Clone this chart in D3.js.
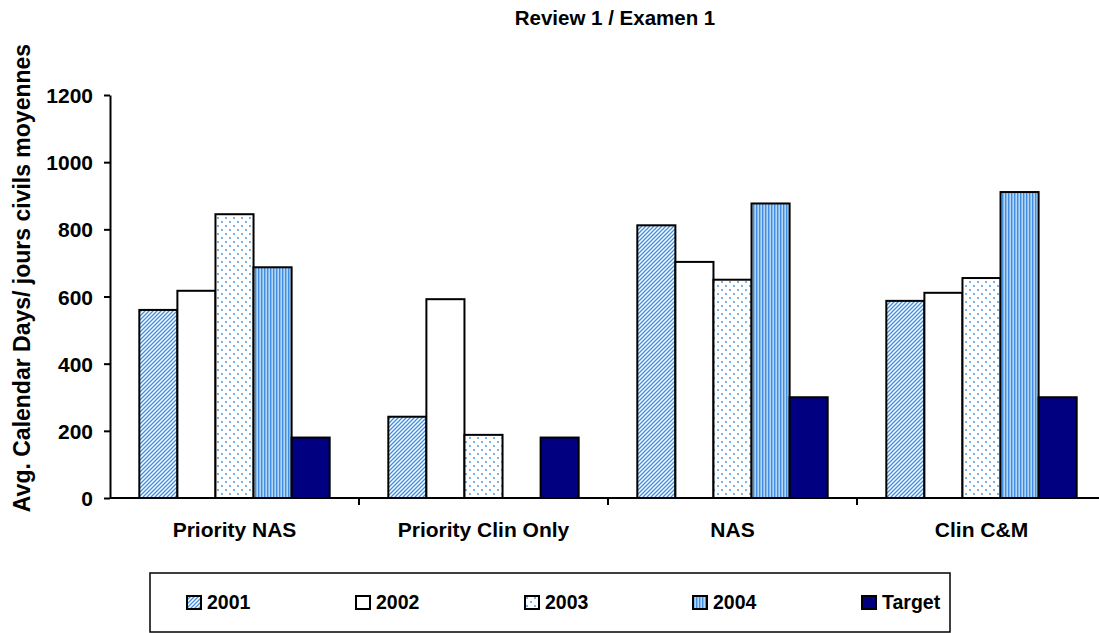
<!DOCTYPE html>
<html>
<head>
<meta charset="utf-8">
<script src="https://cdn.jsdelivr.net/npm/d3@7"></script>
<style>
  body { margin: 0; background: #fff; }
  svg text { font-family: Arial, "Liberation Sans", sans-serif; font-weight: bold; fill: #000; }
</style>
</head>
<body>
<svg id="chart" width="1099" height="633"></svg>
<script>
const categories = ["Priority NAS", "Priority Clin Only", "NAS", "Clin C&M"];
const seriesNames = ["2001", "2002", "2003", "2004", "Target"];
const values2001 = [560, 242, 812, 587];
const values2002 = [617, 592, 703, 611];
const values2003 = [845, 188, 650, 655];
const values2004 = [687, null, 877, 911];
const valuesTarget = [180, 180, 300, 300];
const yTicks = [0, 200, 400, 600, 800, 1000, 1200];

const seriesValues = [values2001, values2002, values2003, values2004, valuesTarget];
const fills = ["url(#p2001)", "#ffffff", "url(#p2003)", "url(#p2004)", "#000080"];

const svg = d3.select("#chart");
const blue = "#3f8ee0";

// patterns
const defs = svg.append("defs");

const p1 = defs.append("pattern")
  .attr("id", "p2001")
  .attr("patternUnits", "userSpaceOnUse")
  .attr("width", 4).attr("height", 4);
p1.append("rect").attr("width", 4).attr("height", 4).attr("fill", "#fff");
p1.append("path")
  .attr("d", "M-1,1 l2,-2 M0,4 l4,-4 M3,5 l2,-2")
  .attr("stroke", blue).attr("stroke-width", 1.3);

const p3 = defs.append("pattern")
  .attr("id", "p2003")
  .attr("patternUnits", "userSpaceOnUse")
  .attr("width", 8).attr("height", 8);
p3.append("rect").attr("width", 8).attr("height", 8).attr("fill", "#fff");
p3.append("circle").attr("cx", 2).attr("cy", 2).attr("r", 0.9).attr("fill", blue);
p3.append("circle").attr("cx", 6).attr("cy", 6).attr("r", 0.9).attr("fill", blue);

const p4 = defs.append("pattern")
  .attr("id", "p2004")
  .attr("patternUnits", "userSpaceOnUse")
  .attr("width", 3).attr("height", 3);
p4.append("rect").attr("width", 3).attr("height", 3).attr("fill", "#b5d5f5");
p4.append("rect").attr("x", 0).attr("width", 1.4).attr("height", 3).attr("fill", blue);

// scales
const x = d3.scaleBand()
  .domain(categories)
  .range([110, 1106]);

const xInner = d3.scaleBand()
  .domain(seriesNames)
  .range([0, x.bandwidth()])
  .paddingOuter(0.77);

const y = d3.scaleLinear()
  .domain([0, 1200])
  .range([498, 95]);

// bars
seriesNames.forEach((name, i) => {
  const rows = categories.map((c, j) => ({ cat: c, value: seriesValues[i][j] }))
    .filter(d => d.value != null);

  svg.append("g")
    .selectAll("rect")
    .data(rows)
    .enter()
    .append("rect")
    .attr("x", d => x(d.cat) + xInner(name))
    .attr("y", d => y(d.value))
    .attr("width", xInner.bandwidth())
    .attr("height", d => y(0) - y(d.value))
    .attr("fill", fills[i])
    .attr("stroke", "#000")
    .attr("stroke-width", 2);
});

// y axis
const yAxis = svg.append("g")
  .attr("transform", "translate(110,0)")
  .call(d3.axisLeft(y).tickValues(yTicks).tickFormat(d3.format("d"))
    .tickSize(6).tickPadding(11).tickSizeOuter(0));
yAxis.select(".domain").attr("stroke", "#000").attr("stroke-width", 2);
yAxis.selectAll(".tick line").attr("stroke", "#000").attr("stroke-width", 2);
yAxis.selectAll(".tick text")
  .style("font-size", "21px")
  .attr("dy", "0.36em");

// x axis
const xAxis = svg.append("g")
  .attr("transform", "translate(0,498)");
xAxis.append("line")
  .attr("x1", 110).attr("x2", 1106)
  .attr("stroke", "#000").attr("stroke-width", 2);
xAxis.selectAll(".xtick")
  .data(categories.slice(1))
  .enter()
  .append("line")
  .attr("x1", d => x(d)).attr("x2", d => x(d))
  .attr("y1", 0).attr("y2", 7)
  .attr("stroke", "#000").attr("stroke-width", 2);
xAxis.selectAll(".xlabel")
  .data(categories)
  .enter()
  .append("text")
  .attr("x", d => x(d) + x.bandwidth() / 2)
  .attr("y", 39)
  .attr("text-anchor", "middle")
  .style("font-size", "21px")
  .text(d => d);

// title
svg.append("text")
  .attr("x", 615)
  .attr("y", 25)
  .attr("text-anchor", "middle")
  .style("font-size", "20.5px")
  .text("Review 1 / Examen 1");

// y label
svg.append("text")
  .attr("transform", "translate(30,278) rotate(-90)")
  .attr("text-anchor", "middle")
  .style("font-size", "23px")
  .text("Avg. Calendar Days/ jours civils moyennes");

// legend
const legend = svg.append("g");
legend.append("rect")
  .attr("x", 150).attr("y", 573)
  .attr("width", 800).attr("height", 59)
  .attr("fill", "none")
  .attr("stroke", "#000")
  .attr("stroke-width", 1.5);

const legendX = [187, 356, 525, 693, 862];
const legendItems = legend.selectAll(".legend-item")
  .data(seriesNames)
  .enter()
  .append("g")
  .attr("transform", (d, i) => `translate(${legendX[i]},596)`);

legendItems.append("rect")
  .attr("width", 14).attr("height", 13)
  .attr("fill", (d, i) => fills[i])
  .attr("stroke", "#000")
  .attr("stroke-width", 2);

legendItems.append("text")
  .attr("x", 20)
  .attr("y", 13)
  .style("font-size", "19.5px")
  .text(d => d);
</script>
</body>
</html>
